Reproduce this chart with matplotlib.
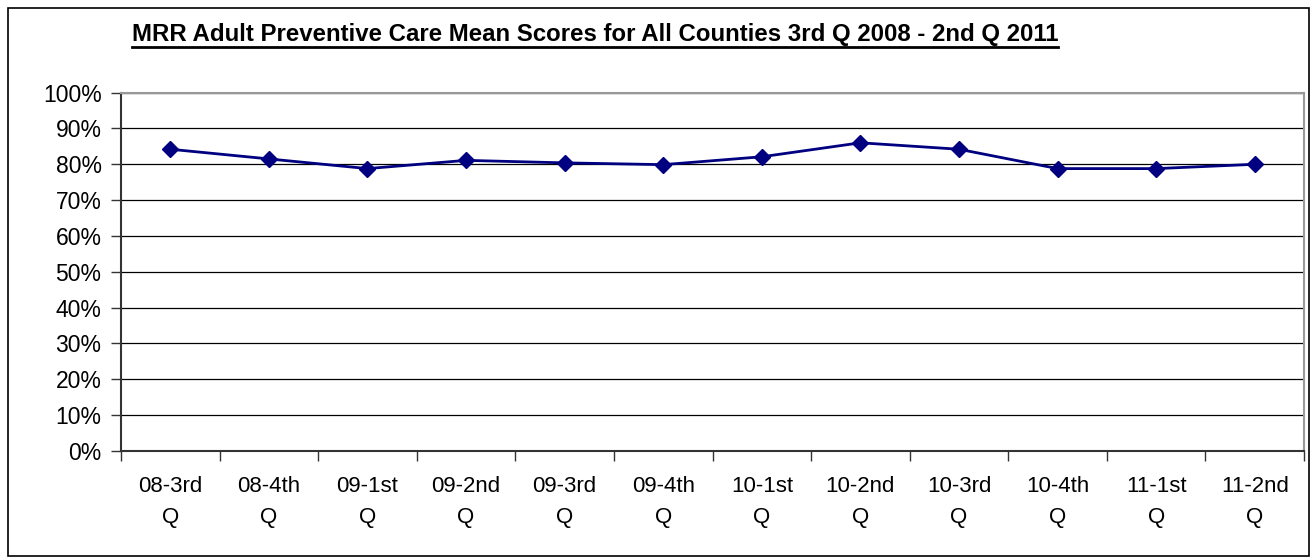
import matplotlib
matplotlib.use("Agg")
import matplotlib.pyplot as plt
from matplotlib.lines import Line2D
from matplotlib.patches import Rectangle
from matplotlib.ticker import FixedLocator, PercentFormatter
import numpy as np

categories = ["08-3rd\nQ", "08-4th\nQ", "09-1st\nQ", "09-2nd\nQ", "09-3rd\nQ", "09-4th\nQ",
              "10-1st\nQ", "10-2nd\nQ", "10-3rd\nQ", "10-4th\nQ", "11-1st\nQ", "11-2nd\nQ"]
mean_scores = [84.2, 81.5, 78.8, 81.1, 80.4, 79.9, 82.1, 86.0, 84.2, 78.8, 78.8, 80.0]
y_ticks = list(range(0, 101, 10))
title = "MRR Adult Preventive Care Mean Scores for All Counties 3rd Q 2008 - 2nd Q 2011"

plt.rcParams["font.family"] = ["Liberation Sans", "DejaVu Sans"]

fig = plt.figure(figsize=(13.11, 5.58), dpi=100)
ax = fig.add_axes([0.0923, 0.1918, 0.9024, 0.6422])

x = np.arange(len(categories))
ax.plot(x, mean_scores, color="#000080", linewidth=2, marker="D", markersize=8,
        markerfacecolor="#000080", markeredgecolor="#000080", zorder=3)

ax.set_xlim(-0.5, len(categories) - 0.5)
ax.set_ylim(0, 100)
ax.set_yticks(y_ticks)
ax.yaxis.set_major_formatter(PercentFormatter(decimals=0))
ax.yaxis.grid(True, color="black", linewidth=0.9)
ax.set_axisbelow(True)

ax.set_xticks(x)
ax.set_xticklabels(categories, linespacing=1.62)
ax.xaxis.set_minor_locator(FixedLocator(np.arange(-0.5, len(categories), 1.0)))
ax.tick_params(axis="x", which="major", length=0, pad=18, labelsize=16)
ax.tick_params(axis="x", which="minor", length=7, width=1, color="#333333")
ax.tick_params(axis="y", length=7, width=1, pad=7, labelsize=16.5, color="#333333")

for side in ("top", "right"):
    ax.spines[side].set_color("#999999")
    ax.spines[side].set_linewidth(1.5)
for side in ("left", "bottom"):
    ax.spines[side].set_color("#333333")
    ax.spines[side].set_linewidth(1.5)

# Outer chart border
fig.patches.append(Rectangle((0.0063, 0.003), 0.9924, 0.982, transform=fig.transFigure,
                             fill=False, edgecolor="black", linewidth=1.2))

# Bold underlined title
t = fig.text(0.454, 0.938, title, ha="center", va="center", fontsize=17.3, fontweight="bold")
fig.canvas.draw()
bb = t.get_window_extent().transformed(fig.transFigure.inverted())
fig.add_artist(Line2D([bb.x0, bb.x1], [bb.y0 - 0.001, bb.y0 - 0.001], transform=fig.transFigure,
                      color="black", linewidth=2))

fig.savefig("out.png", dpi=100)
